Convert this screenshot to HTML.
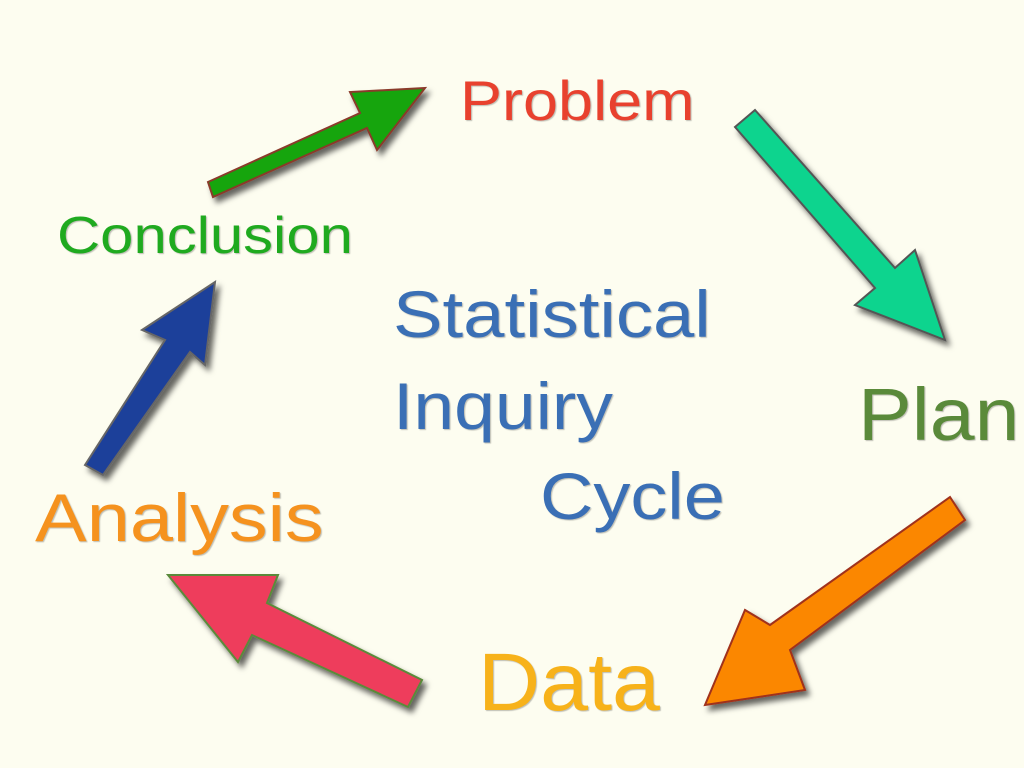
<!DOCTYPE html>
<html><head><style>
html,body{margin:0;padding:0}
body{width:1024px;height:768px;background:#fdfdf0;overflow:hidden;position:relative;font-family:"Liberation Sans",sans-serif}
.t{position:absolute;white-space:nowrap;line-height:1;text-shadow:1px 1px 1px rgba(0,0,0,0.25);transform-origin:0 0}
svg{position:absolute;left:0;top:0}
</style></head><body>
<svg width="1024" height="768">
<defs><filter id="s" x="-20%" y="-20%" width="140%" height="140%"><feDropShadow dx="4" dy="5" stdDeviation="3" flood-color="#000" flood-opacity="0.6"/></filter></defs>
<g filter="url(#s)" stroke-width="2" stroke-linejoin="miter">
<polygon points="213,197 208,182 360,113 350,92 425,88 377,150 367,128" fill="#13a50f" stroke="#8a3a2a"/>
<polygon points="735,127 755,110 895,268 915,250 945,340 855,305 875,288" fill="#0ed48e" stroke="#555"/>
<polygon points="950,497 965,520 790,650 805,690 705,705 745,610 770,625" fill="#fb8705" stroke="#a0301a"/>
<polygon points="422,680 408,707 252,635 238,662 168,575 278,575 267,603" fill="#ee3e5c" stroke="#5a8a3a"/>
<polygon points="85,465 103,475 190,352 205,365 215,282 142,330 165,340" fill="#1f3f9a" stroke="#666"/>
</g>
</svg>
<div class="t" style="left:460px;top:73px;font-size:56px;color:#e8412e;transform:scaleX(1.125)">Problem</div>
<div class="t" style="left:57px;top:210px;font-size:52px;color:#1faa1f;transform:scaleX(1.15)">Conclusion</div>
<div class="t" style="left:393px;top:281px;font-size:66px;color:#3a6fb5;transform:scaleX(1.125)">Statistical</div>
<div class="t" style="left:393px;top:373px;font-size:66px;color:#3a6fb5;transform:scaleX(1.11)">Inquiry</div>
<div class="t" style="left:540px;top:463px;font-size:66px;color:#3a6fb5;transform:scaleX(1.12)">Cycle</div>
<div class="t" style="left:858px;top:378px;font-size:74px;color:#5a8a3a;transform:scaleX(1.09)">Plan</div>
<div class="t" style="left:35px;top:484px;font-size:68px;color:#f5921e;transform:scaleX(1.14)">Analysis</div>
<div class="t" style="left:478px;top:642px;font-size:82px;color:#f7b21a;transform:scaleX(1.05)">Data</div>
</body></html>
